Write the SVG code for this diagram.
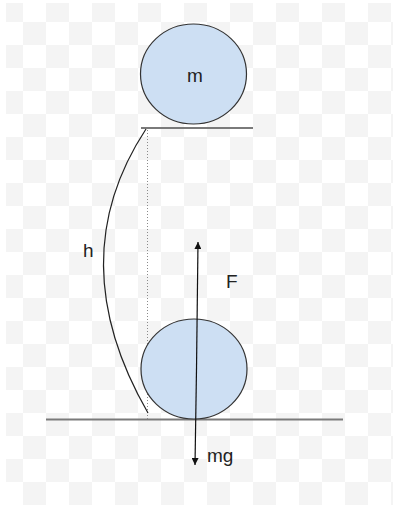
<svg xmlns="http://www.w3.org/2000/svg" width="393" height="509" viewBox="0 0 393 509">
<style>
.ball{fill:#cddff3;stroke:#333;stroke-width:1.2}
.floor{stroke:#7a7a7a;stroke-width:2;fill:none}
.lbl{font-family:"Liberation Sans",Arial,sans-serif;font-size:19px;fill:#222}
.force{stroke:#111;stroke-width:1.2;fill:none}
</style>
<defs>
<pattern id="chk" x="0" y="-1" width="46" height="46" patternUnits="userSpaceOnUse">
<rect width="46" height="46" fill="#ffffff"/>
<rect width="23" height="23" fill="#f4f4f4"/>
<rect x="23" y="23" width="23" height="23" fill="#f4f4f4"/>
</pattern>
<marker id="ah" viewBox="0 0 10 10" refX="10" refY="5" markerWidth="7" markerHeight="7" markerUnits="userSpaceOnUse" orient="auto">
<path d="M0,0 L10,5 L0,10 Z" fill="#111"/>
</marker>
</defs>
<rect width="393" height="509" fill="url(#chk)"/>
<rect x="0" y="0" width="6" height="509" fill="#fff"/>
<rect x="0" y="0" width="393" height="3" fill="#fff"/>
<rect x="0" y="505" width="393" height="4" fill="#fff"/>
<g id="connectors">
<line class="floor" x1="141" y1="128" x2="253" y2="128"/>
<line class="floor" x1="46" y1="419.5" x2="343" y2="419.5"/>
<line x1="147.5" y1="130" x2="147.5" y2="419" stroke="#8a8a8a" stroke-width="1" stroke-dasharray="1,2"/>
<path d="M146,129 Q60,260 148,413" fill="none" stroke="#222" stroke-width="1.2"/>
</g>
<g id="ball-top">
<ellipse class="ball" cx="193.5" cy="74" rx="53" ry="50"/>
<text class="lbl" x="195" y="82" text-anchor="middle">m</text>
</g>
<g id="ball-bottom">
<ellipse class="ball" cx="194" cy="369" rx="53" ry="50"/>
</g>
<g id="forces">
<line class="force" x1="196.5" y1="369" x2="198" y2="242" marker-end="url(#ah)"/>
<line class="force" x1="196.5" y1="369" x2="195" y2="465" marker-end="url(#ah)"/>
</g>
<g id="labels">
<text class="lbl" x="83" y="257">h</text>
<text class="lbl" x="226" y="288">F</text>
<text class="lbl" x="207" y="462">mg</text>
</g>
</svg>
